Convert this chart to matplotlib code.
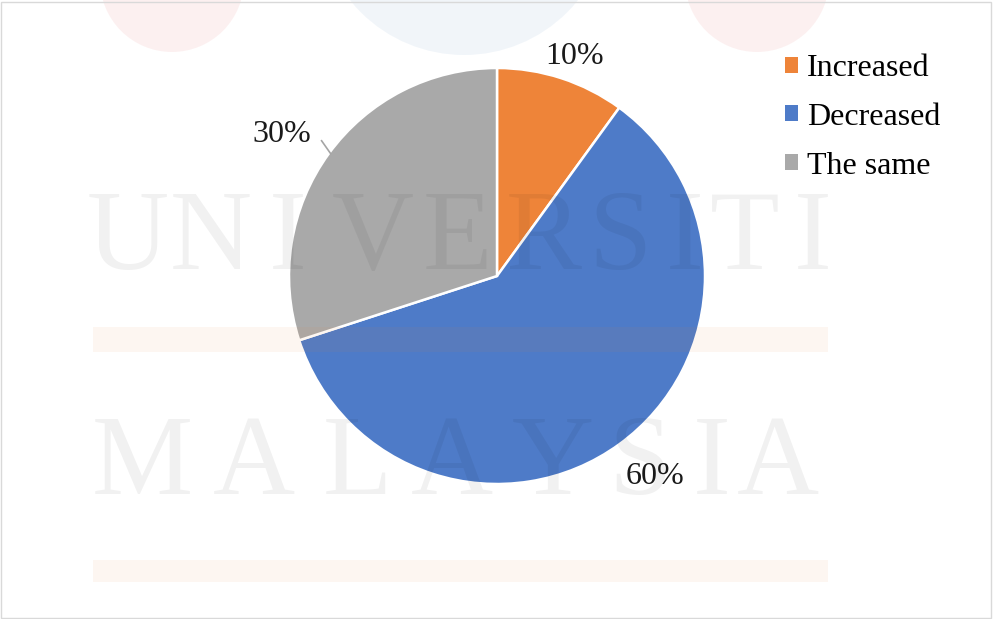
import numpy as np
import matplotlib.pyplot as plt
from matplotlib.patches import Rectangle, Circle

plt.rcParams['font.family'] = ['Liberation Serif', 'DejaVu Serif']

labels = ["Increased", "Decreased", "The same"]
shares = [10, 60, 30]
colors = ['#EE8439', '#4E7BC8', '#A9A9A9']

# where each percentage sits: radius factor and angular nudge (deg)
label_dist = [1.135, 1.215, 1.245]
label_nudge = [-1.3, 2.7, 2.2]

W, H = 993, 619
fig = plt.figure(figsize=(W / 100, H / 100), dpi=100)
ax = fig.add_axes([0, 0, 1, 1])

cx, cy, r = 497, H - 276, 208
wedges, _ = ax.pie(shares, colors=colors, startangle=90, counterclock=False,
                   center=(cx, cy), radius=r,
                   wedgeprops=dict(edgecolor='white', linewidth=1.8))

for w, s, d, n in zip(wedges, shares, label_dist, label_nudge):
    mid = (w.theta1 + w.theta2) / 2
    a = np.deg2rad(mid + n)
    tx, ty = cx + d * r * np.cos(a), cy + d * r * np.sin(a)
    ax.text(tx, ty - 3, f"{s}%", ha='center', va='center', fontsize=23, color='#1a1a1a')
    if d > 1.23:
        # leader line for the label sitting furthest out
        m = np.deg2rad(mid)
        ax.plot([cx + r * np.cos(m) + 2, cx + 1.09 * r * np.cos(m) + 8],
                [cy + r * np.sin(m), cy + 1.09 * r * np.sin(m) + 2],
                color='#A5A5A5', lw=1.2)

ax.set_xlim(0, W)
ax.set_ylim(0, H)
ax.set_aspect('equal')
ax.axis('off')

leg = ax.legend(wedges, labels, loc='upper left', frameon=False,
                bbox_to_anchor=(785 / W, 1 - 54 / H), bbox_transform=fig.transFigure,
                fontsize=23, handlelength=0.4, handleheight=0.4,
                handletextpad=0.3, labelspacing=0.62, borderpad=0, borderaxespad=0)
for h in leg.legend_handles:
    h.set_edgecolor('none')

# faint watermark over the chart
wm = dict(color='black', alpha=0.055, fontsize=82, ha='center', va='baseline', zorder=10)
for ch, x in zip("UNIVERSITI", [128, 211, 288, 373, 457, 544, 620, 685, 745, 813]):
    ax.text(x, H - 269, ch, **wm)
for ch, x in zip("MALAYSIA", [142, 254, 357, 452, 553, 640, 712, 778]):
    ax.text(x, H - 494, ch, **wm)
for y0, y1 in [(327, 352), (560, 582)]:
    ax.add_patch(Rectangle((93, H - y1), 735, y1 - y0, color='#E8883A',
                           alpha=0.07, lw=0, zorder=10))
ax.add_patch(Circle((172, H + 20), 72, color='#E03030', alpha=0.07, lw=0, zorder=10))
ax.add_patch(Circle((757, H + 20), 72, color='#E03030', alpha=0.07, lw=0, zorder=10))
ax.add_patch(Circle((464, H + 91), 146, color='#3A78B8', alpha=0.07, lw=0, zorder=10))

fig.patches.append(Rectangle((1 / W, 1 / H), 1 - 3 / W, 1 - 3 / H, transform=fig.transFigure,
                             fill=False, edgecolor='#D9D9D9', lw=1))

fig.savefig('out.png', dpi=100)
